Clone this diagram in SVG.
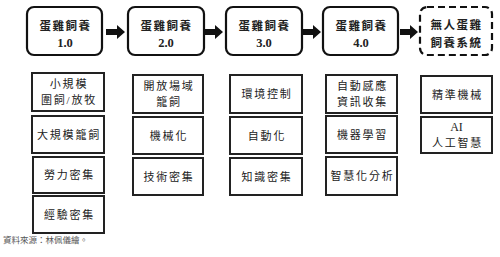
<svg xmlns="http://www.w3.org/2000/svg" width="500" height="257" viewBox="0 0 500 257">
<style>
.stage{fill:#fff;stroke:#111;stroke-width:2.2}
.dash{stroke-dasharray:7 4}
.item{fill:#fff;stroke:#222;stroke-width:2}
.t{font-family:"Liberation Serif","Noto Sans CJK TC",serif;fill:#222;text-anchor:middle;dominant-baseline:central}
.h{font-size:11.5px;font-weight:bold;letter-spacing:1.5px}
.s{font-size:11px;letter-spacing:1.8px}
.n{font-size:12.5px;font-weight:bold}
.a{font-size:12px}
.src{font-family:"Liberation Serif","Noto Sans CJK TC",serif;font-size:8.5px;fill:#555}
.arr{fill:#111}
</style>
<g id="stage1"><rect class="stage" x="27" y="7" width="75" height="48" rx="7"/><text class="t h" x="65.5" y="26">蛋雞飼養</text><text class="t n" x="65" y="43">1.0</text></g>
<g id="stage2"><rect class="stage" x="128" y="7" width="76" height="48" rx="7"/><text class="t h" x="166.5" y="26">蛋雞飼養</text><text class="t n" x="166" y="43">2.0</text></g>
<g id="stage3"><rect class="stage" x="226" y="7" width="76" height="48" rx="7"/><text class="t h" x="264.5" y="26">蛋雞飼養</text><text class="t n" x="264" y="43">3.0</text></g>
<g id="stage4"><rect class="stage" x="323" y="7" width="75" height="48" rx="7"/><text class="t h" x="361.5" y="26">蛋雞飼養</text><text class="t n" x="361" y="43">4.0</text></g>
<g id="stage5"><rect class="stage dash" x="420" y="7" width="72" height="48" rx="7"/><text class="t h" x="456.5" y="25">無人蛋雞</text><text class="t h" x="456.5" y="43">飼養系統</text></g>
<g id="connectors">
<polygon class="arr" points="106,29 117,29 117,25 125,32 117,39 117,35 106,35"/>
<polygon class="arr" points="205,29 215,29 215,25 223,32 215,39 215,35 205,35"/>
<polygon class="arr" points="303,29 313,29 313,25 321,32 313,39 313,35 303,35"/>
<polygon class="arr" points="400,29 410,29 410,25 418,32 410,39 410,35 400,35"/>
</g>
<g id="c1a"><rect class="item" x="32" y="73" width="72" height="38"/><text class="t s" x="69" y="84">小規模</text><text class="t s" x="69" y="100">圍飼/放牧</text></g>
<g id="c1b"><rect class="item" x="32" y="116" width="72" height="37"/><text class="t s" x="69" y="134.5">大規模籠飼</text></g>
<g id="c1c"><rect class="item" x="33" y="157" width="71" height="36"/><text class="t s" x="69.5" y="175">勞力密集</text></g>
<g id="c1d"><rect class="item" x="33" y="196" width="71" height="37"/><text class="t s" x="69.5" y="214.5">經驗密集</text></g>
<g id="c2a"><rect class="item" x="133" y="75" width="70" height="38"/><text class="t s" x="169" y="86">開放場域</text><text class="t s" x="169" y="102">籠飼</text></g>
<g id="c2b"><rect class="item" x="133" y="117" width="70" height="37"/><text class="t s" x="169" y="135.5">機械化</text></g>
<g id="c2c"><rect class="item" x="133" y="158" width="70" height="37"/><text class="t s" x="169" y="176.5">技術密集</text></g>
<g id="c3a"><rect class="item" x="230" y="75" width="72" height="38"/><text class="t s" x="267" y="94">環境控制</text></g>
<g id="c3b"><rect class="item" x="230" y="117" width="72" height="37"/><text class="t s" x="267" y="135.5">自動化</text></g>
<g id="c3c"><rect class="item" x="230" y="158" width="72" height="37"/><text class="t s" x="267" y="176.5">知識密集</text></g>
<g id="c4a"><rect class="item" x="326" y="75" width="71" height="38"/><text class="t s" x="362.5" y="86">自動感應</text><text class="t s" x="362.5" y="102">資訊收集</text></g>
<g id="c4b"><rect class="item" x="326" y="116" width="71" height="37"/><text class="t s" x="362.5" y="134.5">機器學習</text></g>
<g id="c4c"><rect class="item" x="326" y="157" width="71" height="38"/><text class="t s" x="362.5" y="176">智慧化分析</text></g>
<g id="c5a"><rect class="item" x="421" y="76" width="71" height="37"/><text class="t s" x="457.5" y="94.5">精準機械</text></g>
<g id="c5b"><rect class="item" x="421" y="117" width="71" height="36"/><text class="t a" x="456.5" y="127">AI</text><text class="t s" x="457.5" y="143">人工智慧</text></g>
<text class="src" x="3" y="243">資料來源：林佩儀繪。</text>
</svg>
